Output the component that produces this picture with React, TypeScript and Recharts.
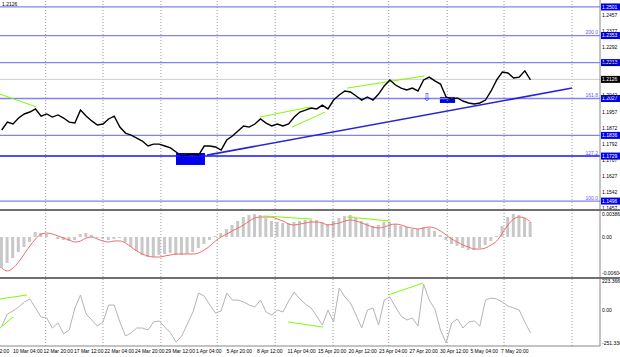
import React from 'react';
import { ComposedChart, Line, Bar, XAxis, YAxis, ReferenceLine, ReferenceArea, ReferenceDot } from 'recharts';

// H4 closes, sampled roughly every 3 bars
const closes = [
  1.1864, 1.1905, 1.1895, 1.1926, 1.1947, 1.1957, 1.1973, 1.1936, 1.1947, 1.1931,
  1.1942, 1.1926, 1.1905, 1.19, 1.1967, 1.1936, 1.1911, 1.189, 1.1895, 1.1921,
  1.1936, 1.1879, 1.1848, 1.1838, 1.1822, 1.1807, 1.1781, 1.1791, 1.1791, 1.1781,
  1.1771, 1.175, 1.1729, 1.1734, 1.174, 1.1734, 1.1781, 1.1781, 1.1776, 1.176,
  1.1812, 1.1833, 1.1859, 1.1885, 1.1879, 1.1895, 1.1921, 1.19, 1.1885, 1.1895,
  1.1885, 1.1895, 1.1931, 1.1957, 1.1967, 1.1978, 1.1973, 1.1993, 1.1973, 1.2019,
  1.2045, 1.2066, 1.2061, 1.204, 1.2019, 1.2035, 1.2019, 1.205, 1.2092, 1.2123,
  1.2097, 1.2081, 1.2071, 1.2081, 1.2066, 1.2123, 1.2138, 1.2118, 1.2102, 1.2035,
  1.2024, 1.203, 1.2014, 1.2004, 1.1999, 1.2004, 1.2019, 1.2066, 1.2123, 1.2164,
  1.2159, 1.2133, 1.2138, 1.217, 1.2123,
];

const macdHist = [
  -0.00521, -0.00437, -0.00353, -0.00252, -0.00168, -0.00084, 0.00084, 0.00067, 0.0005, 0,
  -0.00034, -0.0005, -0.00067, -0.0005, 0.0005, 0.00067, 0.00034, -0.00017, -0.00034, -0.0005,
  -0.00034, -0.00017, -0.00084, -0.00168, -0.00235, -0.00302, -0.00336, -0.00336, -0.00302, -0.00286,
  -0.00269, -0.00302, -0.00302, -0.00286, -0.00252, -0.00185, -0.00118, -0.0005, 0.00017, 0.00067,
  0.00134, 0.00202, 0.00269, 0.00336, 0.0037, 0.00386, 0.0037, 0.00319, 0.00269, 0.00252,
  0.00235, 0.00235, 0.00252, 0.00269, 0.00286, 0.00286, 0.00286, 0.00252, 0.00218, 0.00269,
  0.00319, 0.00353, 0.0037, 0.00319, 0.00269, 0.00235, 0.00185, 0.00202, 0.00252, 0.00252,
  0.00218, 0.00185, 0.00168, 0.00134, 0.00134, 0.00168, 0.00151, 0.00101, 0.00034, -0.0005,
  -0.00118, -0.00151, -0.00185, -0.00218, -0.00218, -0.00185, -0.00134, -0.00067, 0.00017, 0.00185,
  0.00336, 0.00386, 0.0037, 0.00319, 0.00252,
];

const macdSignal = [
  -0.00521, -0.00571, -0.00521, -0.0042, -0.00286, -0.00151, -0.00034, 0.0005, 0.00067, 0.0005,
  0.00017, -0.00017, -0.0005, -0.00084, -0.00067, -0.00017, 0, -0.00034, -0.00067, -0.00084,
  -0.00067, -0.00067, -0.00101, -0.00168, -0.00235, -0.00286, -0.00319, -0.00336, -0.00336, -0.00319,
  -0.00302, -0.00286, -0.00286, -0.00286, -0.00286, -0.00269, -0.00218, -0.00151, -0.00067, 0,
  0.0005, 0.00101, 0.00151, 0.00202, 0.00269, 0.00319, 0.00336, 0.00336, 0.00336, 0.00302,
  0.00269, 0.00218, 0.00202, 0.00218, 0.00235, 0.00252, 0.00252, 0.00235, 0.00202, 0.00218,
  0.00235, 0.00269, 0.00286, 0.00269, 0.00235, 0.00202, 0.00168, 0.00151, 0.00168, 0.00202,
  0.00218, 0.00202, 0.00168, 0.00151, 0.00134, 0.00151, 0.00168, 0.00151, 0.00101, 0.00034,
  -0.00034, -0.00084, -0.00134, -0.00168, -0.00202, -0.00202, -0.00185, -0.00134, -0.00067, 0.00067,
  0.00202, 0.00302, 0.00336, 0.00319, 0.00252,
];

const cci = [
  -110, -25, -3, 25, 60, 82, 18, -46, -53, -124,
  -88, -166, -138, 18, 110, -25, -67, -110, -81, 39,
  39, -81, -180, -159, -124, -124, -138, -81, -74, -117,
  -159, -223, -180, -95, -10, 124, 103, 39, -18, -3,
  124, 74, 74, 60, 39, 25, 74, -10, -32, 3,
  -10, 67, 131, 82, 46, 18, -39, -103, 3, -81,
  160, 96, 53, -32, -124, 3, 18, -103, 74, 96,
  25, -39, -67, -53, -110, 188, 74, 11, -138, -230,
  -88, -60, -124, -81, -74, -110, 74, 89, 82, 60,
  32, 18, 3, -81, -159,
];

const dateTicks = [2.0, 7.42, 12.84, 18.27, 23.69, 29.11, 34.53, 39.96, 45.38, 50.8, 56.22, 61.64, 67.07, 72.49, 77.91, 83.33, 88.76];
const dateLabels = [
  '10 Mar 04:00', '12 Mar 20:00', '17 Mar 12:00', '22 Mar 04:00', '24 Mar 20:00', '29 Mar 12:00',
  '1 Apr 04:00', '5 Apr 20:00', '8 Apr 12:00', '11 Apr 04:00', '15 Apr 20:00', '20 Apr 12:00',
  '23 Apr 04:00', '27 Apr 20:00', '30 Apr 12:00', '5 May 04:00', '7 May 20:00',
];
const firstDateLabel = '5 Mar 12:00';
const gridX = [7.81, 18.0, 28.3, 38.3, 48.6, 58.9, 68.8, 79.2, 89.3, 101.4];

const priceTicks = [1.2457, 1.2377, 1.2292, 1.2207, 1.2042, 1.1957, 1.1872, 1.1792, 1.1707, 1.1627, 1.1542, 1.1457];
const levelPrices = [1.2501, 1.2353, 1.2213, 1.2027, 1.1836, 1.1729, 1.1496];
const levelFibs = ['', '200.0', '', '161.8', '', '127.2', '100.0'];
const lastPrice = 1.2126;

const macdTicks = [0.00386, 0, -0.00604];
const macdTickLabels = ['0.00386', '0.00', '-0.00604'];
const cciTicks = [223.3661, 0, -251.3306];
const cciTickLabels = ['223.3661', '0.00', '-251.3306'];

// drawn objects, in data units: [x1, y1, x2, y2]
const greenPrice = [[-0.31, 1.205, 6.18, 1.1983], [45.91, 1.1931, 54.8, 1.1983], [51.6, 1.1879, 57.5, 1.1957], [61.4, 1.2081, 75.2, 1.2144]];
const trendLine = [36.5, 1.1734, 101.4, 1.2081];
const greenMacd = [[46.5, 0.00353, 55.2, 0.00302], [61.4, 0.00336, 69.0, 0.00269]];
const greenCci = [[-0.31, 82, 4.49, 110], [-0.31, -124, 2.0, -46], [50.9, -81, 57.1, -117], [68.7, 110, 74.9, 195]];
const blueBoxes = [[30.98, 1.1745, 36.13, 1.1683], [77.9, 1.2035, 80.6, 1.2004]];
const arrowMark = [75.6, 1.2033];

const rows = closes.map((c, i) => ({ i, close: c, hist: macdHist[i], signal: macdSignal[i], cci: cci[i] }));

const X_DOMAIN: [number, number] = [-0.31, 106.36];
const FONT = 'Liberation Sans';
const GREEN = '#7cfc00';

const LevelBox = (props: any) => {
  const { viewBox, text, fib, bg, fibColor } = props;
  const y = viewBox.y;
  return (
    <g>
      <rect x={601} y={y - 3.5} width={19} height={7} fill={bg} />
      <text x={602} y={y + 1.8} fontSize={5} fill="#fff" fontFamily={FONT}>{text}</text>
      {fib ? (
        <text x={598} y={y - 1.5} fontSize={5} fill={fibColor} textAnchor="end" fontFamily={FONT}>{fib}</text>
      ) : null}
    </g>
  );
};

const ArrowLabel = (props: any) => {
  const { viewBox } = props;
  return (
    <text x={viewBox.x} y={viewBox.y + 4} fontSize={11} fill="#3030ff" textAnchor="middle" fontFamily="DejaVu Sans">⇩</text>
  );
};

const makeTick = (labels: string[], values: number[], minY: number, maxY: number) => (props: any) => {
  const idx = values.indexOf(props.payload.value);
  const label = idx >= 0 ? labels[idx] : String(props.payload.value);
  const y = Math.min(Math.max(props.y + 1.8, minY), maxY);
  return <text x={602} y={y} fontSize={5} fill="#000" fontFamily={FONT}>{label}</text>;
};

const PriceTick = (props: any) => (
  <text x={602} y={props.y + 1.8} fontSize={5} fill="#000" fontFamily={FONT}>{props.payload.value.toFixed(4)}</text>
);

const DateTick = (props: any) => {
  const idx = dateTicks.indexOf(props.payload.value);
  return (
    <text x={props.x} y={74} fontSize={5} fill="#000" textAnchor="start" fontFamily={FONT}>{dateLabels[idx]}</text>
  );
};

const gridLines = () =>
  gridX.map((g) => <ReferenceLine key={'g' + g} x={g} stroke="#9a9a9a" strokeDasharray="1 2" />);

const Divider = () => <div style={{ height: 2, background: '#6f6f6f' }} />;

export default function App() {
  return (
    <div style={{ position: 'absolute', left: 0, top: 0, width: 620, height: 357, background: '#fff', fontFamily: FONT }}>
      <ComposedChart width={620} height={209} data={rows} margin={{ top: 0, right: 0, bottom: 0, left: 0 }}>
        <XAxis dataKey="i" type="number" domain={X_DOMAIN} hide />
        <YAxis
          orientation="right"
          width={20}
          domain={[1.1455, 1.2537]}
          ticks={priceTicks}
          tick={<PriceTick />}
          tickLine={false}
          axisLine={{ stroke: '#888' }}
          interval={0}
        />
        {gridLines()}
        <ReferenceLine y={lastPrice} stroke="#cfcfcf" label={<LevelBox text="1.2126" bg="#000" />} />
        {levelPrices.map((p, k) => (
          <ReferenceLine
            key={'l' + p}
            y={p}
            stroke={p === 1.1729 ? '#1414ff' : '#8282f2'}
            strokeWidth={p === 1.1729 ? 1.6 : 1.3}
            label={<LevelBox text={p.toFixed(4)} fib={levelFibs[k]} bg="#0000ee" fibColor="#5a5aff" />}
          />
        ))}
        {blueBoxes.map((b, k) => (
          <ReferenceArea key={'b' + k} x1={b[0]} x2={b[2]} y1={b[1]} y2={b[3]} fill="#0000f0" fillOpacity={1} stroke="none" />
        ))}
        <ReferenceLine
          segment={[{ x: trendLine[0], y: trendLine[1] }, { x: trendLine[2], y: trendLine[3] }]}
          stroke="#2424d8"
          strokeWidth={1.6}
        />
        {greenPrice.map((s, k) => (
          <ReferenceLine key={'gp' + k} segment={[{ x: s[0], y: s[1] }, { x: s[2], y: s[3] }]} stroke={GREEN} strokeWidth={1} />
        ))}
        <ReferenceDot x={arrowMark[0]} y={arrowMark[1]} r={0} fill="none" stroke="none" label={<ArrowLabel />} />
        <Line dataKey="close" stroke="#000" strokeWidth={1.4} dot={false} activeDot={false} isAnimationActive={false} type="linear" />
        <text x={2} y={6} fontSize={5} fill="#000" fontFamily={FONT}>1.2126</text>
      </ComposedChart>
      <Divider />
      <ComposedChart width={620} height={66} data={rows} margin={{ top: 0, right: 0, bottom: 0, left: 0 }}>
        <XAxis dataKey="i" type="number" domain={X_DOMAIN} hide />
        <YAxis
          orientation="right"
          width={20}
          domain={[-0.00672, 0.00437]}
          ticks={macdTicks}
          tick={makeTick(macdTickLabels, macdTicks, 4, 64)}
          tickLine={false}
          axisLine={{ stroke: '#888' }}
          interval={0}
        />
        {gridLines()}
        <Bar dataKey="hist" fill="#c8c8c8" barSize={3} isAnimationActive={false} />
        <Line dataKey="signal" stroke="#f26b6b" strokeWidth={1} dot={false} activeDot={false} isAnimationActive={false} type="monotone" />
        {greenMacd.map((s, k) => (
          <ReferenceLine key={'gm' + k} segment={[{ x: s[0], y: s[1] }, { x: s[2], y: s[3] }]} stroke={GREEN} strokeWidth={1} />
        ))}
      </ComposedChart>
      <Divider />
      <ComposedChart width={620} height={78} data={rows} margin={{ top: 0, right: 0, bottom: 0, left: 0 }}>
        <XAxis
          dataKey="i"
          type="number"
          domain={X_DOMAIN}
          ticks={dateTicks}
          tick={<DateTick />}
          tickLine={false}
          axisLine={{ stroke: '#888' }}
          height={11}
          interval={0}
        />
        <YAxis
          orientation="right"
          width={20}
          domain={[-251.3306, 223.3661]}
          ticks={cciTicks}
          tick={makeTick(cciTickLabels, cciTicks, 4, 66)}
          tickLine={false}
          axisLine={{ stroke: '#888' }}
          interval={0}
        />
        {gridLines()}
        <Line dataKey="cci" stroke="#b4b4b4" strokeWidth={1} dot={false} activeDot={false} isAnimationActive={false} type="linear" />
        {greenCci.map((s, k) => (
          <ReferenceLine key={'gc' + k} segment={[{ x: s[0], y: s[1] }, { x: s[2], y: s[3] }]} stroke={GREEN} strokeWidth={1} />
        ))}
        <text x={-17.5} y={74} fontSize={5} fill="#000" fontFamily={FONT}>{firstDateLabel}</text>
      </ComposedChart>
    </div>
  );
}
